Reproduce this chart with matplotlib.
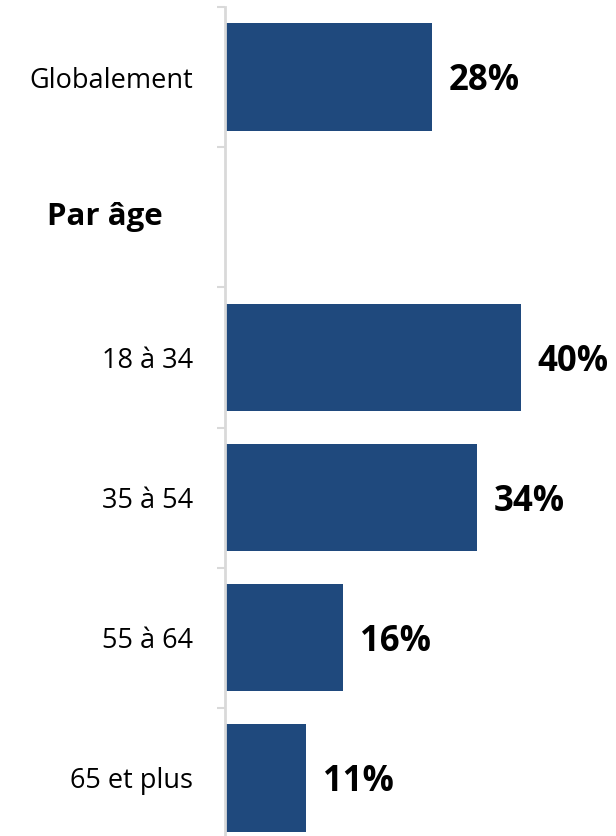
import matplotlib
matplotlib.use("Agg")
import matplotlib.pyplot as plt
from matplotlib.transforms import blended_transform_factory

plt.rcParams.update({
    "font.family": ["Open Sans", "DejaVu Sans"],
})

# ------------------------------------------------------------
# Data
# ------------------------------------------------------------
categories = ["Globalement", "Par âge", "18 à 34", "35 à 54", "55 à 64", "65 et plus"]
values = [28, None, 40, 34, 16, 11]
section_rows = ["Par âge"]

BAR_COLOR = "#1F497D"
AXIS_GRAY = "#D9D9D9"

fig = plt.figure(figsize=(6.16, 8.36), dpi=100)
ax = fig.add_axes([0.365, 0.0, 0.635, 1.0])

pos = list(range(len(categories)))
for y, v in zip(pos, values):
    if v is None:
        continue
    ax.barh(y, v, height=0.765, color=BAR_COLOR)
    ax.annotate(f"{v}%", (v, y), xytext=(12, -3), textcoords="offset points",
                ha="left", va="center", fontsize=25, fontweight="bold",
                color="black")

# category labels (section headers drawn separately)
ax.set_yticks(pos)
ax.set_yticklabels([c if c not in section_rows else "" for c in categories],
                   fontsize=19.5)
ax.tick_params(axis="y", which="major", length=0, pad=23)
ax.set_yticks([p - 0.5 for p in pos] + [len(pos) - 0.5], minor=True)
ax.tick_params(axis="y", which="minor", length=6, width=1.5, color=AXIS_GRAY,
               direction="out")

# limits after the ticks, otherwise set_yticks widens them
ax.set_xlim(0, 52.8)
ax.set_ylim(5.414, -0.55)

trans = blended_transform_factory(fig.transFigure, ax.transData)
for c in section_rows:
    i = categories.index(c)
    fig.text(47 / 616, i, c, transform=trans, ha="left", va="center",
             fontsize=22.5, fontweight="bold")

ax.set_xticks([])
for s in ["top", "right", "bottom"]:
    ax.spines[s].set_visible(False)
ax.spines["left"].set_color(AXIS_GRAY)
ax.spines["left"].set_linewidth(2)
ax.spines["left"].set_bounds(-0.5, len(pos) - 0.5)

fig.savefig("out.png", dpi=100)
